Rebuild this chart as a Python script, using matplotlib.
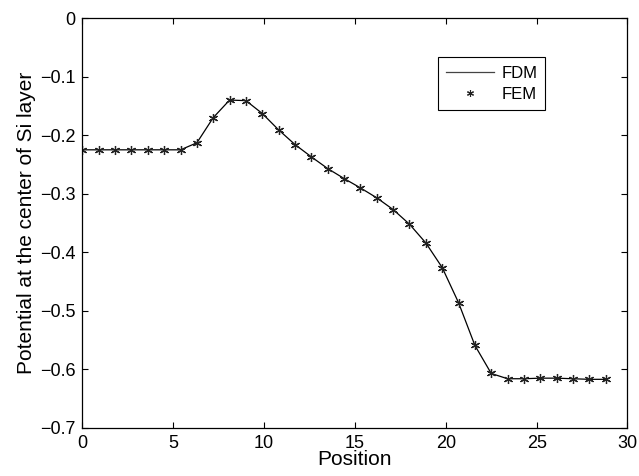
import matplotlib.pyplot as plt
import numpy as np
from matplotlib.lines import Line2D

plt.rcParams['font.family'] = ['Liberation Sans', 'DejaVu Sans']

# Position grid and potential values
POSITION = np.arange(33) * 0.9
POTENTIAL = [
    -0.225, -0.225, -0.225, -0.225, -0.225, -0.225, -0.225, -0.213,
    -0.170, -0.140, -0.141, -0.163, -0.191, -0.216, -0.237, -0.257,
    -0.274, -0.290, -0.307, -0.327, -0.352, -0.384, -0.426, -0.486,
    -0.559, -0.607, -0.616, -0.616, -0.615, -0.615, -0.616, -0.617,
    -0.617,
]
X_TICKS = [0, 5, 10, 15, 20, 25, 30]
Y_TICKS = [0, -0.1, -0.2, -0.3, -0.4, -0.5, -0.6, -0.7]
Y_TICK_LABELS = ["0", "\u22120.1", "\u22120.2", "\u22120.3", "\u22120.4",
                 "\u22120.5", "\u22120.6", "\u22120.7"]

ASTERISK = (6, 2, 0)

fig = plt.figure(figsize=(6.39, 4.76), dpi=100)
ax = fig.add_axes([0.129, 0.101, 0.853, 0.861])

ax.plot(POSITION, POTENTIAL, color="black", linewidth=0.9)
ax.plot(POSITION, POTENTIAL, linestyle="none", marker=ASTERISK, markersize=6.5,
        markeredgecolor="#222222", markeredgewidth=0.9)

ax.set_xlim(0, 30)
ax.set_ylim(-0.7, 0)
ax.set_xticks(X_TICKS)
ax.set_yticks(Y_TICKS)
ax.set_yticklabels(Y_TICK_LABELS)
ax.tick_params(direction="in", top=True, right=True, labelsize=13,
               length=4, width=0.8, pad=5)
for s in ax.spines.values():
    s.set_linewidth(0.9)

ax.set_xlabel("Position", fontsize=15, labelpad=-1)
ax.set_ylabel("Potential at the center of Si layer", fontsize=15, labelpad=3)

handles = [
    Line2D([], [], color="#444444", linewidth=0.9),
    Line2D([], [], linestyle="none", marker=ASTERISK, markersize=5,
           markeredgecolor="#222222", markeredgewidth=0.8),
]
leg = ax.legend(handles, ["FDM", "FEM"], loc="upper left",
                bbox_to_anchor=(0.652, 0.904), borderaxespad=0,
                fontsize=12, handlelength=2.9, frameon=True, fancybox=False,
                edgecolor="black", framealpha=1, labelspacing=0.35,
                borderpad=0.5, handletextpad=0.4)
leg.get_frame().set_linewidth(0.8)

fig.savefig("out.png", dpi=100)
